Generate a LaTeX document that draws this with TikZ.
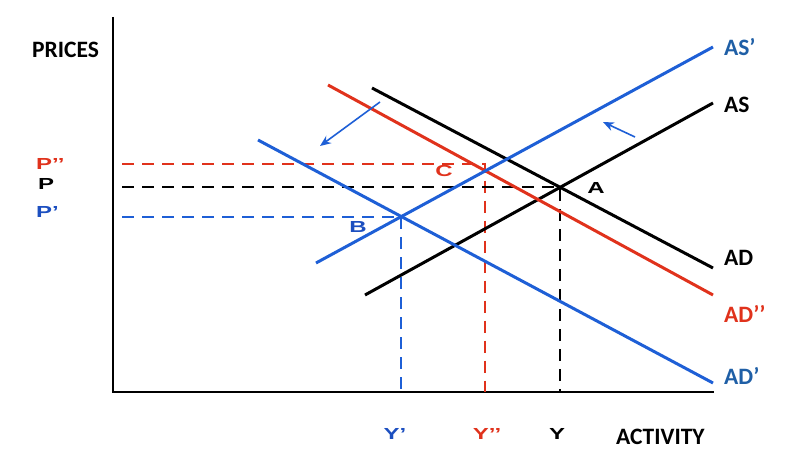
\documentclass[tikz,border=0pt]{standalone}
\usepackage{fontspec}
\setmainfont{Carlito}
\newfontfamily\arialw[FakeStretch=1.5]{Liberation Sans Bold}
\usetikzlibrary{arrows.meta}
\definecolor{lblue}{HTML}{1E5FD6}
\definecolor{lred}{HTML}{E0321C}
\definecolor{tblue}{HTML}{1F5FA6}
\definecolor{pblue}{HTML}{1C4FC0}
\tikzset{
  axis/.style={line width=2.4pt,black},
  curve/.style={line width=3pt},
  guide/.style={line width=2pt,dash pattern=on 12pt off 8pt},
  shiftarrow/.style={line width=1.6pt,lblue,-{Stealth[length=11pt,width=9pt]}},
  biglab/.style={font=\fontsize{23.5}{25}\selectfont\bfseries,anchor=west,inner sep=0pt},
  smalllab/.style={font=\arialw\fontsize{16}{18}\selectfont,inner sep=0pt}
}
\begin{document}
\begin{tikzpicture}[x=1pt,y=-1pt]
\useasboundingbox (0,0) rectangle (800,465);
% axes
\coordinate (O) at (113,392);
\coordinate (Ytop) at (113,17);
\coordinate (Xend) at (714,392);
\coordinate (pl) at (122,0);
\draw[axis] (Ytop) -- (O) -- (Xend);
% curve endpoints
\coordinate (asp1) at (316,263); \coordinate (asp2) at (713,47);
\coordinate (as1) at (365,295);  \coordinate (as2) at (713,103);
\coordinate (ad1) at (372,88);   \coordinate (ad2) at (713,268);
\coordinate (adpp1) at (328,85); \coordinate (adpp2) at (713,295);
\coordinate (adp1) at (258,140); \coordinate (adp2) at (713,383);
% equilibria
\coordinate (A) at (intersection of as1--as2 and ad1--ad2);
\coordinate (B) at (intersection of asp1--asp2 and adp1--adp2);
\coordinate (C) at (intersection of asp1--asp2 and adpp1--adpp2);
\coordinate (pppy) at (0,164);
\coordinate (Cc) at (C |- pppy);
% guides
\draw[guide,lred] (pl |- pppy) -- (Cc) -- (C |- O);
\draw[guide,black] (A -| pl) -- (A) -- (A |- O);
\draw[guide,lblue] (B -| pl) -- (B) -- (B |- O);
% curves
\draw[curve,black] (as1) -- (as2);
\draw[curve,black] (ad1) -- (ad2);
\draw[curve,lred] (adpp1) -- (adpp2);
\draw[curve,lblue] (adp1) -- (adp2);
\draw[curve,lblue] (asp1) -- (asp2);
% shift arrows
\coordinate (s1a) at (380,102); \coordinate (s1b) at (320,146);
\coordinate (s2a) at (635,137); \coordinate (s2b) at (603,122);
\draw[shiftarrow] (s1a) -- (s1b);
\draw[shiftarrow] (s2a) -- (s2b);
% labels
\node[biglab] (lprices) at (32,50) {PRICES};
\node[biglab] (lactivity) at (616,437) {ACTIVITY};
\node[biglab,tblue] (lasp) at (724,47) {AS’};
\node[biglab] (las) at (724,105) {AS};
\node[biglab] (lad) at (724,258) {AD};
\node[biglab,lred] (ladpp) at (724,314) {AD’’};
\node[biglab,tblue] (ladp) at (724,376) {AD’};
\node[smalllab,lred,anchor=west] (lpp) at (36,164) {P’’};
\node[smalllab,black,anchor=west] (lp) at (38,184) {P};
\node[smalllab,pblue,anchor=west] (lpq) at (36,212) {P’};
\node[smalllab,pblue] (lyp) at (395,434) {Y’};
\node[smalllab,lred] (lypp) at (487,434) {Y’’};
\node[smalllab,black] (ly) at (557,434) {Y};
\node[smalllab,black] (la) at (596,188) {A};
\node[smalllab,pblue] (lb) at (358,227) {B};
\node[smalllab,lred] (lc) at (444,171) {C};
\end{tikzpicture}
\end{document}
